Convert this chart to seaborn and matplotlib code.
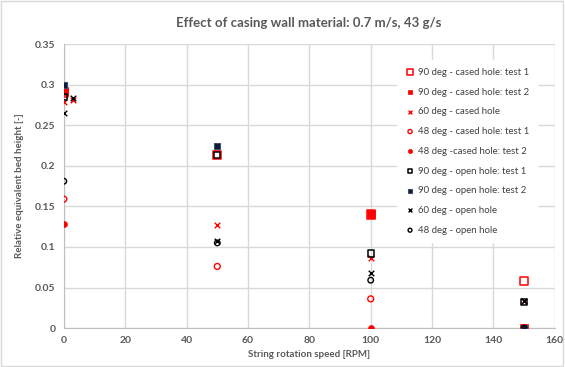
import matplotlib
matplotlib.use("Agg")
import matplotlib.pyplot as plt
import seaborn as sns

# String rotation speeds [RPM]
rpm_main = [0, 50, 100, 150]
rpm_x = [0, 3, 50, 100, 150]

# Relative equivalent bed height [-]
cased90_t1 = [0.290, 0.213, 0.140, 0.058]
cased90_t2 = [0.292, 0.140, 0.0]
cased90_t2_rpm = [0, 100, 150]
cased60 = [0.278, 0.281, 0.127, 0.086, 0.034]
cased48_t1 = [0.159, 0.076, 0.036, 0.0]
cased48_t2 = [0.128, 0.0, 0.0]
cased48_t2_rpm = [0, 100, 150]
open90_t1 = [0.285, 0.213, 0.092, 0.032]
open90_t2 = [0.300, 0.224, 0.0]
open90_t2_rpm = [0, 50, 150]
open60 = [0.265, 0.283, 0.107, 0.068, 0.034]
open48 = [0.181, 0.105, 0.059, 0.0]

red = "#FF0000"
blk = "#000000"
navy = "#0B1A3A"

sns.set_style("white")
plt.rcParams["font.family"] = ["Lato", "DejaVu Sans"]

fig = plt.figure(figsize=(5.65, 3.67), dpi=100)
ax = fig.add_axes([0.113, 0.106, 0.869, 0.774])

sns.scatterplot(x=rpm_main, y=cased90_t1, marker="s", s=36, facecolor="none",
                edgecolor=red, linewidth=1.1, label="90 deg - cased hole: test 1", ax=ax, zorder=3)
sns.scatterplot(x=cased90_t2_rpm, y=cased90_t2, marker="s", s=26, color=red,
                edgecolor=red, linewidth=0.5, label="90 deg - cased hole: test 2", ax=ax, zorder=3)
sns.scatterplot(x=rpm_x, y=cased60, marker="x", s=16, color=red,
                linewidth=1.0, label="60 deg - cased hole", ax=ax, zorder=4)
sns.scatterplot(x=rpm_main, y=cased48_t1, marker="o", s=18, facecolor="none",
                edgecolor=red, linewidth=1.0, label="48 deg - cased hole: test 1", ax=ax, zorder=3)
sns.scatterplot(x=cased48_t2_rpm, y=cased48_t2, marker="o", s=18, color=red,
                edgecolor=red, linewidth=0.5, label="48 deg -cased hole: test 2", ax=ax, zorder=3)
sns.scatterplot(x=rpm_main, y=open90_t1, marker="s", s=20, facecolor="none",
                edgecolor=blk, linewidth=1.1, label="90 deg - open hole: test 1", ax=ax, zorder=4)
sns.scatterplot(x=open90_t2_rpm, y=open90_t2, marker="s", s=20, color=navy,
                edgecolor="#44506A", linewidth=0.8, label="90 deg - open hole: test 2", ax=ax, zorder=4)
sns.scatterplot(x=rpm_x, y=open60, marker="x", s=16, color=blk,
                linewidth=1.0, label="60 deg - open hole", ax=ax, zorder=4)
sns.scatterplot(x=rpm_main, y=open48, marker="o", s=16, facecolor="none",
                edgecolor=blk, linewidth=1.0, label="48 deg - open hole", ax=ax, zorder=4)

ax.set_xlim(0, 160)
ax.set_ylim(0, 0.35)
ax.set_xticks(range(0, 161, 20))
ax.set_yticks([0, 0.05, 0.1, 0.15, 0.2, 0.25, 0.3, 0.35])
ax.set_yticklabels(["0", "0.05", "0.1", "0.15", "0.2", "0.25", "0.3", "0.35"])
ax.grid(True, color="#D9D9D9", linewidth=1.0)
ax.set_axisbelow(True)
for side in ["top", "right"]:
    ax.spines[side].set_visible(False)
for side in ["left", "bottom"]:
    ax.spines[side].set_color("#BFBFBF")
ax.tick_params(axis="both", length=0, labelsize=7.5, colors="#595959", pad=6)
for lab in ax.get_xticklabels() + ax.get_yticklabels():
    lab.set_fontweight("bold")

ax.set_xlabel("String rotation speed [RPM]", fontsize=7, color="#595959", fontweight="bold", labelpad=3)
ax.set_ylabel("Relative equivalent bed height [-]", fontsize=7, color="#595959", fontweight="bold", labelpad=8)
fig.suptitle("Effect of casing wall material: 0.7 m/s, 43 g/s", x=0.547, y=0.955,
             fontsize=9.5, color="#595959", fontweight="bold")

leg = ax.legend(loc="upper left", bbox_to_anchor=(0.668, 0.96), fontsize=6.9,
                frameon=True, fancybox=False, framealpha=1.0, edgecolor="white",
                handletextpad=0.2, handlelength=1.2, labelspacing=1.12, borderpad=0.8,
                markerscale=0.7)
for t in leg.get_texts():
    t.set_color("#404040")

fig.patches.append(plt.Rectangle((0.002, 0.003), 0.995, 0.993, transform=fig.transFigure,
                                 fill=False, edgecolor="#D9D9D9", linewidth=1.0))

fig.savefig("out.png", dpi=100)
